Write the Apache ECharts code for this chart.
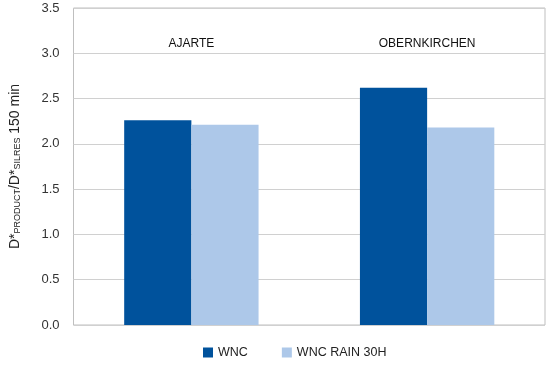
<!DOCTYPE html>
<html><head><meta charset="utf-8">
<script src="https://cdn.jsdelivr.net/npm/echarts@6/dist/echarts.min.js"></script>
<style>html,body{margin:0;padding:0;background:#fff}#c{width:550px;height:368px}</style>
</head><body><div id="c"></div>
<script>
const categories = ['AJARTE', 'OBERNKIRCHEN'];
const seriesNames = ['WNC', 'WNC RAIN 30H'];
const wnc = [2.26, 2.62];
const wncRain = [2.21, 2.18];
const yTicks = [0, 0.5, 1, 1.5, 2, 2.5, 3, 3.5];

const chart = echarts.init(document.getElementById('c'));
const font = 'Liberation Sans, Arial, sans-serif';
chart.setOption({
  animation: false,
  textStyle: { fontFamily: font },
  grid: { left: 72, right: 5, top: 8, bottom: 43, show: true, borderColor: '#bfbfbf', borderWidth: 1 },
  legend: {
    bottom: 4, left: 198, itemWidth: 10, itemHeight: 10, itemGap: 34,
    icon: 'rect',
    textStyle: { fontSize: 12.5, color: '#222', fontFamily: font },
    data: seriesNames
  },
  xAxis: {
    type: 'category', data: categories, position: 'top',
    axisLine: { show: false }, axisTick: { show: false },
    axisLabel: { inside: true, margin: 30, fontSize: 12, color: '#111' }
  },
  yAxis: {
    type: 'value', min: 0, max: 3.5, interval: 0.5,
    axisLine: { show: false }, axisTick: { show: false },
    axisLabel: { fontSize: 13, color: '#333', margin: 14,
      formatter: v => v.toFixed(1) },
    splitLine: { lineStyle: { color: '#d0d0d0', width: 1 } },
    name: '{m|D*}{s|PRODUCT}{m|/D*}{s|SILRES}{m| 150 min}',
    nameLocation: 'middle', nameGap: 51, nameRotate: 90,
    nameTextStyle: {
      rich: {
        m: { fontSize: 14, color: '#222', fontFamily: font },
        s: { fontSize: 9, color: '#222', fontFamily: font, padding: [6, 0, 0, 0] }
      }
    }
  },
  series: [
    { name: seriesNames[0], type: 'bar', data: wnc, barGap: '0%', barCategoryGap: '43%',
      itemStyle: { color: '#00529c' } },
    { name: seriesNames[1], type: 'bar', data: wncRain,
      itemStyle: { color: '#adc8e9' } }
  ]
});
</script></body></html>
